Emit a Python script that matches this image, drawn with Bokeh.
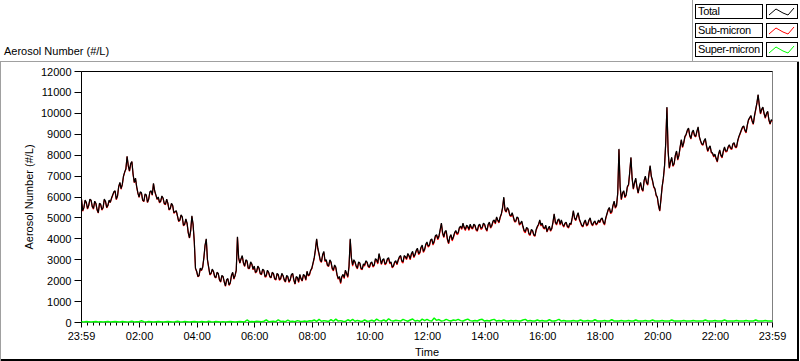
from bokeh.plotting import figure
from bokeh.layouts import column
from bokeh.models import Range1d, FixedTicker, LinearAxis, Div
from bokeh.embed import file_html
from bokeh.resources import INLINE

# ---------------- data ----------------
minutes = list(range(0, 1441, 5))  # minutes after 23:59 of the previous day

total = [
    5900, 5500, 5750, 5600, 5850, 5450, 5700, 5250, 5650, 5500, 5800, 5600,
    5750, 6100, 6300, 6050, 6700, 6600, 7200, 7950, 7250, 7700, 6700, 6500,
    6000, 6200, 5800, 6100, 5900, 6300, 6650, 6100, 6000, 5800, 5950, 5650,
    5700, 5450, 5600, 5300, 5100, 4900, 5050, 4700, 4750, 4050, 5100, 3900,
    2450, 2250, 2500, 3100, 4000, 2650, 2350, 2450, 2150, 2350, 1950, 2200,
    1750, 2100, 1900, 2400, 2250, 4100, 2850, 3200, 2700, 2950, 2600, 2800,
    2700, 2450, 2600, 2300, 2500, 2250, 2400, 2150, 2350, 2050, 2300, 2100,
    2250, 1950, 2200, 2050, 2350, 1850, 2150, 2300, 2000, 2250, 2450, 2300,
    2600, 3100, 4000, 3300, 2900, 3400, 3000, 2700, 2900, 2500, 2650, 2100,
    1900, 2300, 2500, 2200, 4000, 2750, 2900, 2600, 2850, 2550, 2750, 2900,
    2650, 2900, 2750, 3000, 3300, 2800, 3050, 2850, 3100, 2900, 2700, 2950,
    3000, 3200, 2900, 3150, 3300, 3050, 3400, 3250, 3550, 3350, 3700, 3500,
    3850, 3700, 4000, 3900, 4200, 4150, 4750, 4100, 4400, 3800, 4200, 4100,
    4400, 4300, 4600, 4750, 4450, 4600, 4700, 4500, 4650, 4400, 4700, 4550,
    4700, 4400, 4800, 4650, 4900, 5050, 4800, 5200, 6000, 5300, 5400, 5100,
    5050, 4850, 5000, 4750, 4600, 4350, 4500, 4200, 4400, 4150, 4600, 4900,
    4750, 4500, 4350, 4600, 4500, 5200, 4700, 4950, 4900, 4600, 4800, 4550,
    4700, 5350, 4900, 5250, 4800, 4600, 4900, 4700, 5000, 4650, 4850, 4750,
    4800, 5000, 4700, 5200, 5500, 5300, 5800, 5600, 8300, 5900, 6300, 6100,
    6600, 7900, 6400, 6900, 6200, 6700, 6300, 7000, 6600, 7500, 6800, 6400,
    6000, 5350, 6500, 7500, 10300, 7400, 7900, 7600, 8200, 8000, 8750, 8600,
    9000, 9300, 8800, 9200, 8900, 9350, 8700, 8500, 8800, 8200, 8450, 8100,
    8050, 7700, 8250, 7900, 8400, 8200, 8500, 8300, 8600, 8400, 8900, 9200,
    9400, 9100, 9700, 9900, 9500, 10200, 10900, 10000, 10300, 9800, 10100, 9500,
    9650,
]
# readings half-way between the 5-minute samples above (minute + 2.5)
total_mid = [
    5350, 5850, 5450, 5900, 5550, 5800, 5400, 5700, 5400, 5900, 5500, 5850,
    5950, 6250, 5900, 6500, 6400, 7000, 7350, 7500, 7600, 7100, 6900, 6200,
    6250, 5850, 6150, 5750, 6250, 6100, 6300, 5900, 5750, 6050, 5700, 5900,
    5400, 5700, 5250, 5350, 4850, 5150, 4650, 4950, 4300, 4400, 4700, 2600,
    2200, 2600, 2650, 3700, 3000, 2300, 2550, 2200, 2400, 2050, 2250, 1950,
    2050, 1800, 2250, 2100, 2500, 3100, 3050, 2850, 3000, 2600, 2900, 2550,
    2400, 2700, 2350, 2550, 2200, 2500, 2200, 2400, 2100, 2350, 2050, 2350,
    2050, 2250, 1950, 2300, 2050, 2200, 1950, 2100, 2300, 2050, 2250, 2500,
    2850, 3500, 3550, 3000, 3250, 2950, 2750, 3000, 2600, 2750, 2300, 2200,
    2200, 2150, 2350, 2700, 3100, 3000, 2700, 2900, 2600, 2800, 2950, 2700,
    2850, 2700, 3050, 2850, 3050, 3000, 2800, 3050, 2850, 2650, 2900, 2800,
    3150, 2950, 3200, 3050, 3200, 3300, 3150, 3450, 3300, 3600, 3400, 3750,
    3650, 3950, 3750, 4150, 4000, 4450, 4300, 4350, 4000, 4100, 3950, 4300,
    4250, 4550, 4500, 4550, 4650, 4450, 4550, 4700, 4450, 4650, 4500, 4750,
    4500, 4700, 4550, 4850, 4750, 4900, 5050, 5500, 5400, 5500, 5150, 5250,
    4850, 5050, 4700, 4850, 4400, 4550, 4250, 4450, 4200, 4450, 4700, 4650,
    4550, 4650, 4500, 4400, 4800, 4800, 4900, 4700, 4700, 4750, 4600, 4750,
    5000, 5000, 5100, 4950, 4650, 4800, 4650, 4900, 4750, 4800, 4700, 4900,
    4950, 4800, 5000, 5400, 5250, 5600, 5500, 6200, 6500, 6200, 6000, 6500,
    7200, 6900, 6700, 6500, 6500, 6400, 6800, 6700, 7100, 7000, 6500, 6100,
    5600, 5900, 6900, 8600, 8200, 7700, 7500, 8000, 7800, 8400, 8400, 8900,
    9200, 8950, 9100, 8950, 9150, 8900, 8550, 8700, 8450, 8350, 8150, 7950,
    7850, 8050, 8000, 8200, 8200, 8400, 8350, 8550, 8400, 8700, 9050, 9350,
    9200, 9450, 9800, 9650, 9900, 10500, 10400, 10200, 10000, 10000, 9700, 9700,
]

sub_micron = [
    5880, 5480, 5720, 5580, 5830, 5420, 5680, 5230, 5620, 5480, 5780, 5580,
    5730, 6070, 6280, 6030, 6670, 6580, 7180, 7930, 7220, 7680, 6680, 6470,
    5980, 6160, 5780, 6080, 5880, 6270, 6630, 6080, 5970, 5780, 5930, 5630,
    5680, 5430, 5570, 5280, 5080, 4880, 5020, 4680, 4730, 4030, 5070, 3880,
    2430, 2230, 2480, 3070, 3980, 2630, 2330, 2420, 2130, 2330, 1930, 2180,
    1730, 2080, 1870, 2380, 2230, 4080, 2830, 3170, 2680, 2890, 2580, 2780,
    2680, 2420, 2580, 2280, 2470, 2190, 2380, 2130, 2320, 2030, 2240, 2080,
    2220, 1930, 2140, 2030, 2320, 1830, 2110, 2270, 1980, 2220, 2430, 2260,
    2570, 3060, 3980, 3240, 2870, 3360, 2970, 2680, 2850, 2470, 2590, 2070,
    1860, 2270, 2480, 2150, 3970, 2690, 2870, 2560, 2820, 2530, 2700, 2870,
    2620, 2850, 2720, 2940, 3260, 2770, 3000, 2820, 3040, 2860, 2670, 2900,
    2960, 3170, 2840, 3110, 3270, 3000, 3340, 3220, 3510, 3320, 3640, 3460,
    3790, 3660, 3970, 3820, 4160, 4090, 4720, 4060, 4340, 3760, 4170, 4050,
    4360, 4240, 4560, 4720, 4400, 4540, 4660, 4470, 4610, 4370, 4650, 4490,
    4670, 4360, 4770, 4600, 4840, 5020, 4760, 5170, 5950, 5270, 5370, 5060,
    5020, 4810, 4970, 4720, 4550, 4290, 4470, 4160, 4370, 4120, 4550, 4870,
    4710, 4470, 4320, 4550, 4470, 5170, 4660, 4890, 4870, 4560, 4770, 4520,
    4670, 5310, 4870, 5220, 4750, 4570, 4870, 4660, 4970, 4620, 4800, 4720,
    4770, 4970, 4660, 5170, 5470, 5250, 5770, 5570, 8270, 5860, 6270, 6070,
    6560, 7870, 6370, 6850, 6170, 6670, 6270, 6960, 6570, 7470, 6750, 6370,
    5970, 5320, 6460, 7470, 10270, 7370, 7850, 7570, 8170, 7970, 8720, 8560,
    8970, 9270, 8770, 9160, 8870, 9320, 8670, 8470, 8750, 8170, 8420, 8070,
    8010, 7670, 8220, 7870, 8350, 8170, 8470, 8270, 8570, 8360, 8870, 9170,
    9370, 9060, 9670, 9870, 9470, 10150, 10870, 9970, 10270, 9760, 10070, 9470,
    9620,
]
sub_micron_mid = [
    5320, 5830, 5420, 5880, 5520, 5780, 5370, 5680, 5370, 5870, 5480, 5820,
    5920, 6230, 5870, 6480, 6370, 6980, 7320, 7470, 7580, 7070, 6880, 6170,
    6220, 5830, 6120, 5730, 6220, 6080, 6270, 5880, 5720, 6030, 5670, 5880,
    5370, 5680, 5220, 5330, 4820, 5130, 4620, 4930, 4270, 4380, 4670, 2580,
    2180, 2570, 2630, 3670, 2980, 2270, 2530, 2170, 2380, 2030, 2220, 1930,
    2030, 1770, 2230, 2070, 2480, 3070, 3030, 2820, 2970, 2580, 2870, 2520,
    2370, 2680, 2320, 2530, 2170, 2470, 2170, 2380, 2070, 2320, 2020, 2330,
    2010, 2220, 1910, 2270, 2010, 2170, 1910, 2070, 2260, 2010, 2220, 2470,
    2810, 3460, 3510, 2950, 3210, 2910, 2710, 2960, 2550, 2710, 2250, 2160,
    2160, 2100, 2310, 2650, 3060, 2950, 2660, 2860, 2550, 2760, 2900, 2660,
    2810, 2650, 3000, 2800, 3010, 2960, 2750, 3000, 2800, 2610, 2850, 2760,
    3100, 2900, 3150, 3000, 3160, 3250, 3100, 3400, 3250, 3550, 3350, 3700,
    3600, 3900, 3700, 4100, 3950, 4400, 4250, 4300, 3950, 4050, 3900, 4250,
    4200, 4500, 4450, 4510, 4600, 4400, 4500, 4660, 4400, 4600, 4450, 4700,
    4460, 4660, 4510, 4800, 4710, 4860, 5010, 5460, 5350, 5460, 5110, 5210,
    4810, 5010, 4660, 4810, 4350, 4510, 4210, 4410, 4160, 4410, 4660, 4610,
    4510, 4610, 4460, 4360, 4760, 4760, 4850, 4660, 4660, 4710, 4560, 4710,
    4960, 4960, 5060, 4910, 4610, 4760, 4610, 4860, 4710, 4760, 4660, 4860,
    4910, 4760, 4960, 5360, 5210, 5560, 5460, 6160, 6460, 6160, 5960, 6460,
    7160, 6860, 6660, 6460, 6460, 6360, 6760, 6660, 7060, 6960, 6460, 6060,
    5560, 5860, 6860, 8560, 8160, 7660, 7460, 7960, 7760, 8360, 8360, 8860,
    9160, 8910, 9060, 8910, 9110, 8860, 8510, 8660, 8410, 8310, 8110, 7910,
    7810, 8010, 7960, 8160, 8160, 8360, 8310, 8510, 8360, 8660, 9010, 9310,
    9160, 9410, 9760, 9610, 9860, 10460, 10360, 10160, 9960, 9960, 9660, 9660,
]

super_micron = [
    40, 30, 50, 40, 30, 40, 50, 30, 40, 30, 40, 50,
    30, 40, 50, 40, 30, 50, 40, 30, 40, 60, 30, 40,
    40, 80, 40, 30, 50, 40, 30, 40, 50, 40, 30, 40,
    50, 40, 30, 40, 60, 40, 30, 50, 40, 30, 40, 50,
    40, 30, 50, 40, 30, 60, 40, 30, 50, 40, 30, 40,
    30, 40, 50, 40, 30, 40, 50, 40, 30, 120, 40, 50,
    40, 60, 50, 40, 60, 120, 40, 50, 60, 40, 130, 50,
    60, 40, 110, 50, 60, 40, 90, 60, 50, 70, 50, 80,
    70, 120, 50, 150, 60, 90, 70, 50, 140, 60, 160, 70,
    90, 60, 50, 130, 70, 150, 60, 100, 70, 50, 130, 60,
    70, 110, 60, 160, 90, 70, 120, 60, 180, 90, 70, 110,
    90, 70, 150, 100, 60, 120, 170, 70, 100, 60, 160, 90,
    150, 90, 70, 220, 100, 140, 70, 90, 150, 100, 70, 120,
    100, 150, 90, 70, 120, 160, 90, 70, 100, 70, 130, 150,
    70, 100, 70, 120, 150, 70, 100, 70, 120, 70, 70, 100,
    70, 100, 70, 70, 120, 150, 70, 100, 70, 70, 120, 70,
    100, 70, 70, 130, 70, 70, 100, 150, 70, 100, 70, 70,
    70, 100, 70, 70, 120, 70, 70, 100, 70, 70, 130, 70,
    70, 70, 100, 70, 70, 130, 70, 70, 70, 100, 70, 70,
    100, 70, 70, 120, 70, 70, 70, 100, 70, 70, 120, 70,
    70, 70, 100, 70, 70, 70, 120, 70, 70, 70, 70, 100,
    70, 70, 70, 100, 70, 70, 70, 70, 120, 70, 70, 70,
    100, 70, 70, 70, 120, 70, 70, 70, 70, 100, 70, 70,
    70, 100, 70, 70, 70, 120, 70, 70, 70, 100, 70, 70,
    70,
]

tick_minutes = [0, 121, 241, 361, 481, 601, 721, 841, 961, 1081, 1201, 1321, 1440]
tick_labels = ["23:59", "02:00", "04:00", "06:00", "08:00", "10:00", "12:00",
               "14:00", "16:00", "18:00", "20:00", "22:00", "23:59"]
y_ticks = list(range(0, 12001, 1000))

series_names = ["Total", "Sub-micron", "Super-micron"]
series_colors = ["#000000", "#ff0000", "#00ff00"]

FONT = "Liberation Sans"
FS = "11px"

# merge the 5-minute samples and the half-way readings in time order
t_fine, total_fine, sub_fine = [], [], []
for i, m in enumerate(minutes):
    t_fine.append(m)
    total_fine.append(total[i])
    sub_fine.append(sub_micron[i])
    if i < len(total_mid):
        t_fine.append(m + 2.5)
        total_fine.append(total_mid[i])
        sub_fine.append(sub_micron_mid[i])

# ---------------- header strip (chart name + LabVIEW-style legend) ----------------
W = 799
rows = []
for i, (name, color) in enumerate(zip(series_names, series_colors)):
    top = 4 + 19 * i
    rows.append(
        f'<div style="position:absolute;left:695px;top:{top}px;width:64px;height:13px;'
        f'padding-left:2px;border:1px solid #000;line-height:13px;white-space:nowrap;'
        f'letter-spacing:-0.35px;overflow:hidden;">{name}</div>'
        f'<div style="position:absolute;left:766px;top:{top}px;width:30px;height:13px;'
        f'border:1px solid #000;"><svg width="30" height="13" style="display:block">'
        f'<polyline points="2,10 9,4 16,8 21,10 27,3" fill="none" stroke="{color}" '
        f'stroke-width="1"/></svg></div>'
    )
header_html = (
    f'<div style="position:relative;width:{W}px;height:62px;background:#ffffff;'
    f"font-family:'{FONT}';font-size:{FS};color:#000;box-sizing:content-box;\">"
    '<div style="position:absolute;left:4px;top:45px;line-height:13px;white-space:nowrap;">'
    'Aerosol Number (#/L)</div>'
    '<div style="position:absolute;left:692px;top:0px;width:1px;height:61px;background:#a0a0a0;"></div>'
    f'<div style="position:absolute;left:0px;top:61px;width:{W}px;height:1px;background:#a0a0a0;"></div>'
    + "".join(rows) + "</div>"
)
head = Div(text=header_html, width=W, height=62, margin=0)

# ---------------- main chart ----------------
p = figure(width=W, height=299,
           x_range=Range1d(0, 1440), y_range=Range1d(0, 12000),
           output_backend="svg", toolbar_location=None,
           min_border_left=81, min_border_right=W - 772,
           min_border_top=9, min_border_bottom=39,
           background_fill_color="white", border_fill_color=None)
p.xgrid.visible = False
p.ygrid.visible = False
p.outline_line_color = "#808080"
p.outline_line_width = 1

p.line(t_fine, sub_fine, line_color=series_colors[1], line_width=1.2)
p.line(t_fine, total_fine, line_color=series_colors[0], line_width=1.2)
p.line(minutes, super_micron, line_color=series_colors[2], line_width=1.5, level="overlay")

ya = p.yaxis[0]
ya.ticker = FixedTicker(ticks=y_ticks, minor_ticks=[])
ya.axis_label = "Aerosol Number (#/L)"
ya.axis_label_text_font = FONT
ya.axis_label_text_font_size = FS
ya.axis_label_text_font_style = "normal"
ya.axis_label_text_color = "black"
ya.axis_label_standoff = 3
ya.major_label_text_font = FONT
ya.major_label_text_font_size = FS
ya.major_label_text_color = "black"
ya.major_label_standoff = 3
ya.major_tick_out = 7
ya.major_tick_in = 0
ya.minor_tick_out = 0
ya.minor_tick_in = 0
ya.axis_line_color = "black"
ya.major_tick_line_color = "black"

minor_x = [m for m in range(1, 1440, 12) if m not in tick_minutes]
xa = p.xaxis[0]
xa.ticker = FixedTicker(ticks=tick_minutes, minor_ticks=minor_x)
xa.major_label_overrides = {t: l for t, l in zip(tick_minutes, tick_labels)}
xa.major_label_text_font = FONT
xa.major_label_text_font_size = FS
xa.major_label_text_color = "black"
xa.major_label_standoff = 2
xa.major_tick_out = 5
xa.major_tick_in = 0
xa.minor_tick_out = 3
xa.minor_tick_in = 0
xa.axis_line_color = "#808080"
xa.major_tick_line_color = "black"
xa.minor_tick_line_color = "black"
xa.axis_label = "Time"
xa.axis_label_text_font = FONT
xa.axis_label_text_font_size = FS
xa.axis_label_text_font_style = "normal"
xa.axis_label_text_color = "black"
xa.axis_label_standoff = 1

top_axis = LinearAxis(ticker=FixedTicker(ticks=[]), axis_line_color="black",
                      major_label_text_alpha=0, major_tick_out=0, minor_tick_out=0,
                      major_label_standoff=0)
p.add_layout(top_axis, "above")

root = column(head, p, spacing=0)
root.styles = {"box-shadow": "inset 1px 0 0 0 #a0a0a0, inset -2px -2px 0 0 #000000"}

open("out.html", "w").write(file_html(root, INLINE))
